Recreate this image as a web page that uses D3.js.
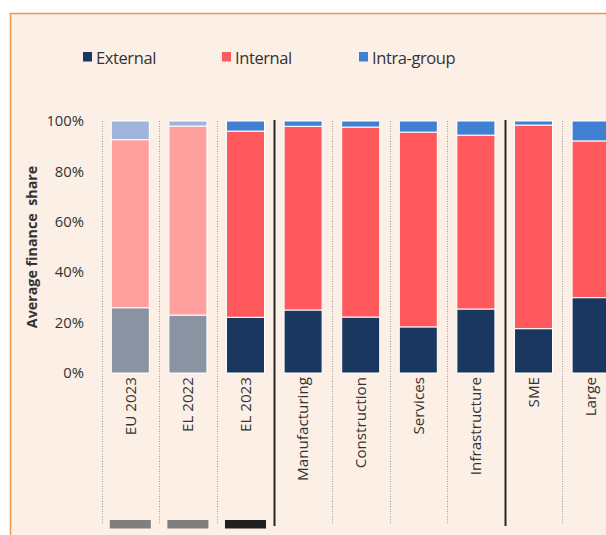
<!DOCTYPE html>
<html>
<head>
<meta charset="utf-8">
<script src="https://cdn.jsdelivr.net/npm/d3@7"></script>
<style>
  html, body { margin: 0; padding: 0; background: #ffffff; }
  svg { display: block; font-family: "Open Sans", "Noto Sans", sans-serif; }
</style>
</head>
<body>
<svg id="chart" width="606" height="535"></svg>
<script>
// Categories along the x axis and the group each one belongs to
const categories = ["EU 2023", "EL 2022", "EL 2023", "Manufacturing", "Construction", "Services", "Infrastructure", "SME", "Large"];
const groups = [0, 0, 0, 1, 1, 1, 1, 2, 2];
// Benchmarks drawn in faded colours
const faded = [true, true, false, false, false, false, false, false, false];

// Average finance share by source (percent)
const external   = [25.9, 23.0, 22.1, 25.0, 22.2, 18.3, 25.4, 17.6, 29.9];
const internal   = [66.7, 75.0, 73.9, 72.9, 75.4, 77.3, 69.0, 80.8, 62.2];
const intraGroup = [7.4, 2.0, 4.0, 2.1, 2.4, 4.4, 5.6, 1.6, 7.9];

const seriesNames = ["External", "Internal", "Intra-group"];
const yTicks = [0, 20, 40, 60, 80, 100];
const yTitle = "Average finance  share";

// Marker strip under the first three categories
const markerCats = ["EU 2023", "EL 2022", "EL 2023"];

const colors = {
  "External":    { full: "#19375f", faded: "#8a93a2" },
  "Internal":    { full: "#ff585d", faded: "#ffa09f" },
  "Intra-group": { full: "#3f80d3", faded: "#9fb5dc" }
};
const markerColors = ["#7f7f7f", "#7f7f7f", "#1f1f1f"];

const svg = d3.select("#chart");
const textColor = "#333333";

// Panel background with an orange frame (right and bottom edges run off-canvas)
svg.append("rect")
  .attr("x", 10.5).attr("y", 13.5)
  .attr("width", 800).attr("height", 700)
  .attr("fill", "#fcefe6")
  .attr("stroke", "#f0954a")
  .attr("stroke-width", 1.5);

const step = 57.6;
const x0 = 101.5;
const x = d3.scaleBand()
  .domain(categories)
  .range([x0, x0 + step * categories.length])
  .paddingInner(0.34)
  .paddingOuter(0.17);

const y = d3.scaleLinear().domain([0, 100]).range([373, 121]);

// Stack the three series
const rows = categories.map((c, i) => ({
  cat: c, faded: faded[i],
  "External": external[i], "Internal": internal[i], "Intra-group": intraGroup[i]
}));
const stacked = d3.stack().keys(seriesNames)(rows);

// Separators between categories: dotted within a group, solid between groups
const bandStep = x.step();
const seps = categories.map((c, i) => ({
  x: x0 + i * bandStep,
  solid: i > 0 && groups[i] !== groups[i - 1]
}));
svg.append("g").selectAll("line")
  .data(seps)
  .join("line")
  .attr("x1", d => Math.round(d.x) + 0.5)
  .attr("x2", d => Math.round(d.x) + 0.5)
  .attr("y1", d => d.solid ? 120 : 121)
  .attr("y2", d => d.solid ? 526 : 524)
  .attr("stroke", d => d.solid ? "#262626" : "#a09a95")
  .attr("stroke-width", d => d.solid ? 2 : 1)
  .attr("stroke-dasharray", d => d.solid ? null : "1,1.5");

// Stacked bars
const layers = svg.append("g").selectAll("g")
  .data(stacked)
  .join("g");
layers.selectAll("rect")
  .data(d => d.map(v => ({ key: d.key, v })))
  .join("rect")
  .attr("x", d => x(d.v.data.cat))
  .attr("width", x.bandwidth())
  .attr("y", d => y(d.v[1]))
  .attr("height", d => y(d.v[0]) - y(d.v[1]))
  .attr("fill", d => d.v.data.faded ? colors[d.key].faded : colors[d.key].full)
  .attr("stroke", "#ffffff")
  .attr("stroke-width", 1);

// Y axis (labels only)
const yAxis = d3.axisLeft(y)
  .tickValues(yTicks)
  .tickFormat(d => d + "%")
  .tickSize(0)
  .tickPadding(0);
const gy = svg.append("g")
  .attr("transform", "translate(84,0)")
  .call(yAxis);
gy.select(".domain").remove();
gy.selectAll("text")
  .attr("fill", textColor)
  .attr("font-size", "14.8px")
  .attr("font-family", "'Open Sans', 'Noto Sans', sans-serif");

// Y axis title
svg.append("text")
  .attr("transform", `translate(37,${(y(0) + y(100)) / 2}) rotate(-90)`)
  .attr("text-anchor", "middle")
  .attr("font-size", "14.3px")
  .attr("font-weight", "bold")
  .attr("fill", textColor)
  .attr("xml:space", "preserve")
  .style("white-space", "pre")
  .text(yTitle);

// Rotated category labels
const xAxis = d3.axisBottom(x).tickSize(0).tickPadding(0);
const gx = svg.append("g")
  .attr("transform", "translate(0,377)")
  .call(xAxis);
gx.select(".domain").remove();
gx.selectAll("text")
  .attr("transform", "rotate(-90)")
  .attr("text-anchor", "end")
  .attr("dy", "0.35em")
  .attr("x", 0)
  .attr("y", 0)
  .attr("fill", textColor)
  .attr("font-size", "15.2px")
  .attr("font-family", "'Open Sans', 'Noto Sans', sans-serif");

// Marker strip below the benchmark categories
svg.append("g").selectAll("rect")
  .data(markerCats)
  .join("rect")
  .attr("x", d => x(d) - 1.5)
  .attr("width", x.bandwidth() + 3)
  .attr("y", 520)
  .attr("height", 8.5)
  .attr("fill", (d, i) => markerColors[i]);

// Legend
const legendX = [83, 222, 359];
const legend = svg.append("g").selectAll("g")
  .data(seriesNames)
  .join("g")
  .attr("transform", (d, i) => `translate(${legendX[i]},0)`);
legend.append("rect")
  .attr("x", 0).attr("y", 52)
  .attr("width", 9).attr("height", 9.5)
  .attr("fill", d => colors[d].full);
legend.append("text")
  .attr("x", 13).attr("y", 63.5)
  .attr("font-size", "16.5px")
  .attr("letter-spacing", "-0.4px")
  .attr("fill", textColor)
  .text(d => d);
</script>
</body>
</html>
